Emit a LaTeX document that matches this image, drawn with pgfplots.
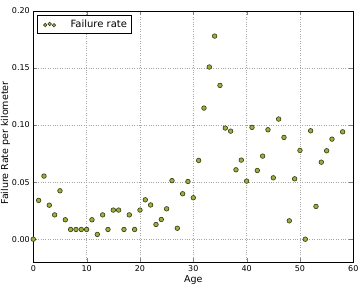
\documentclass[border=0pt]{standalone}
\usepackage{pgfplots}
\pgfplotsset{compat=1.18}
\usepackage{fontspec}
\setmainfont{DejaVu Sans}
\definecolor{mk}{RGB}{156,174,60}
\definecolor{mkedge}{RGB}{50,54,20}
\begin{document}
\begin{tikzpicture}
\begin{axis}[
  scale only axis,
  width=320pt, height=251pt,
  xmin=0, xmax=60, ymin=-0.02, ymax=0.20,
  xtick={0,10,...,60},
  ytick={0,0.05,0.10,0.15,0.20},
  yticklabel style={/pgf/number format/.cd,fixed,fixed zerofill,precision=2},
  /pgf/number format/assume math mode=true,
  tick label style={font=\fontsize{8}{9}\selectfont},
  tick align=inside,
  major tick length=4pt,
  xtick pos=both, ytick pos=both,
  grid=major,
  grid style={dotted, gray!70, line width=0.5pt},
  axis line style={black, line width=0.8pt},
  every axis y label/.style={at={(axis description cs:-0.087,0.474)}, rotate=90, anchor=center, font=\fontsize{9.5}{11}\selectfont},
  every axis x label/.style={at={(axis description cs:0.5,-0.0916)}, anchor=south, inner sep=0pt, font=\fontsize{9.5}{11}\selectfont},
  xlabel={Age},
  ylabel={Failure Rate per kilometer},
  legend style={at={(axis description cs:0.0105,0.984)}, anchor=north west, draw=black, line width=0.6pt,
     font=\fontsize{10}{12}\selectfont, inner xsep=2pt, inner ysep=2.5pt, cells={anchor=west}},
  legend image code/.code={
     \path (-6pt,0pt) (23pt,0pt);
     \filldraw[fill=mk, draw=mkedge, line width=0.5pt] (0pt,-0.6pt) circle (1.8pt);
     \filldraw[fill=mk, draw=mkedge, line width=0.5pt] (4.4pt,0.4pt) circle (1.8pt);
     \filldraw[fill=mk, draw=mkedge, line width=0.5pt] (8.8pt,-0.9pt) circle (1.8pt);
  },
]
\addplot[only marks, mark=*, mark size=2.3pt, mark options={fill=mk, draw=mkedge, line width=0.6pt}] table {
x y
0 0.000
1 0.034
2 0.0553
3 0.0298
4 0.0213
5 0.0424
6 0.017
7 0.0085
8 0.0085
9 0.0085
10 0.0085
11 0.017
12 0.0042
13 0.0213
14 0.0085
15 0.0255
16 0.0255
17 0.0085
18 0.0213
19 0.0085
20 0.0255
21 0.0345
22 0.030
23 0.0129
24 0.0173
25 0.0266
26 0.0513
27 0.0096
28 0.0398
29 0.0506
30 0.0363
31 0.069
32 0.1149
33 0.1509
34 0.178
35 0.1348
36 0.0974
37 0.0947
38 0.0608
39 0.0693
40 0.0509
41 0.098
42 0.0602
43 0.0728
44 0.0959
45 0.0538
46 0.1053
47 0.0892
48 0.0161
49 0.0529
50 0.0778
51 0.000
52 0.095
53 0.0287
54 0.0675
55 0.0775
56 0.0877
58 0.0941
};
\addlegendentry{Failure rate}
\end{axis}
\pgfresetboundingbox
\path ([shift={(-33.3pt,-23pt)}]current axis.south west) rectangle ([shift={(6.7pt,11pt)}]current axis.north east);
\end{tikzpicture}
\end{document}
